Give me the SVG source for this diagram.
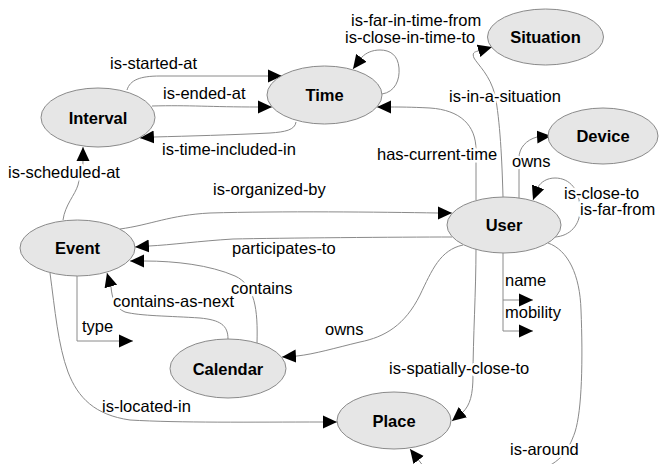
<svg xmlns="http://www.w3.org/2000/svg" width="660" height="464" viewBox="0 0 660 464">
<style>
.node ellipse{fill:#e6e6e6;stroke:#8a8a8a;stroke-width:1}
.node text{font-family:"Liberation Sans",Arial,sans-serif;font-size:16.5px;font-weight:bold;fill:#000;text-anchor:middle}
.edge{fill:none;stroke:#8a8a8a;stroke-width:1;marker-end:url(#ah)}
.lbl{font-family:"Liberation Sans",Arial,sans-serif;font-size:16.5px;fill:#000}
.halo{stroke:#fff;stroke-width:5;stroke-linejoin:round;paint-order:stroke}
</style>
<defs>
<marker id="ah" viewBox="0 0 14 14" refX="14" refY="7" markerWidth="14" markerHeight="14" markerUnits="userSpaceOnUse" orient="auto">
<path d="M0,0.5 L14,7 L0,13.5 z" fill="#000"/>
</marker>
</defs>
<rect width="660" height="464" fill="#fff"/>
<g id="connectors">
<path class="edge" d="M127,90 C130,80 140,76 160,76 L268,76 L282,76"/>
<path class="edge" d="M152,106 C190,105 210,107 258,107 L272,107"/>
<path class="edge" d="M296,122 C295,130 285,132 270,133 C230,135 190,136 154,137 L140,138"/>
<path class="edge" d="M63,220 C65,205 75,195 78,185 C80,175 83,170 83,161 L83,147"/>
<path class="edge" d="M382,94 C395,92 400,80 399,68 C398,55 390,50 380,50 C372,50 366,53 362,57 L353,69"/>
<path class="edge" d="M476,200 L476,150 C476,125 460,110 430,108 C410,107 400,107 391,107 L377,107"/>
<path class="edge" d="M503,197 C502,160 500,120 495,95 C490,75 478,65 474,58 C472,53 474,52 478,51 L492,47"/>
<path class="edge" d="M519,198 L519,158 C519,148 526,140 537,137 L551,136"/>
<path class="edge" d="M555,237 C570,236 580,225 580,210 C580,190 570,178 555,178 C547,178 541,182 538,187 L533,200"/>
<path class="edge" d="M120,229 C150,225 170,215 210,213 C280,211 380,212 438,213 L452,213"/>
<path class="edge" d="M452,237 C400,237 280,238 233,239 C200,241 170,245 149,246 L135,247"/>
<path class="edge" d="M257,343 C258,310 255,285 235,276 C210,265 175,261 145,261 L130,261"/>
<path class="edge" d="M228,339 C228,325 220,320 200,318 C170,316 140,316 125,312 C115,308 112,298 111,287 L107,273"/>
<path class="edge" d="M77,276 L77,341 L119,341 L133,341"/>
<path class="edge" d="M50,273 C55,310 58,345 68,372 C78,398 95,415 130,420 C180,423 250,422 323,422 L337,422"/>
<path class="edge" d="M463,245 C440,250 432,270 420,295 C405,325 385,337 360,342 C335,348 315,354 297,356 L282,357"/>
<path class="edge" d="M476,249 C476,290 473,340 473,375 C473,395 470,405 463,412 L452,421"/>
<path class="edge" d="M503,253 L503,331 L519,331 L533,331"/>
<path class="edge" d="M503,300 L519,300 L533,300"/>
<path class="edge" d="M548,243 C568,250 580,275 581,310 C583,360 582,410 575,432 C568,452 560,462 540,470 C500,485 440,480 424,467 L410,449"/>
</g>
<g id="labels" class="lbl">
<text x="110" y="69">is-started-at</text>
<text x="163" y="99">is-ended-at</text>
<text x="162" y="155">is-time-included-in</text>
<text class="halo" x="8" y="178">is-scheduled-at</text>
<text x="213" y="195">is-organized-by</text>
<text x="351" y="26">is-far-in-time-from</text>
<text x="345" y="43">is-close-in-time-to</text>
<text class="halo" x="449" y="102">is-in-a-situation</text>
<text class="halo" x="377" y="160">has-current-time</text>
<text class="halo" x="512" y="167">owns</text>
<text class="halo" x="564" y="199">is-close-to</text>
<text class="halo" x="580" y="215">is-far-from</text>
<text x="232" y="254">participates-to</text>
<text class="halo" x="231" y="294">contains</text>
<text class="halo" x="113" y="307">contains-as-next</text>
<text x="82" y="332">type</text>
<text x="102" y="412">is-located-in</text>
<text x="325" y="335">owns</text>
<text x="505" y="286">name</text>
<text x="505" y="318">mobility</text>
<text class="halo" x="389" y="374">is-spatially-close-to</text>
<text class="halo" x="510" y="455">is-around</text>
</g>
<g id="node-interval" class="node"><ellipse cx="98" cy="117.5" rx="57" ry="29.5"/><text x="98" y="123.5">Interval</text></g>
<g id="node-time" class="node"><ellipse cx="324.5" cy="95" rx="57.5" ry="29"/><text x="324.5" y="101">Time</text></g>
<g id="node-situation" class="node"><ellipse cx="545.5" cy="37" rx="58" ry="28"/><text x="545.5" y="42.5">Situation</text></g>
<g id="node-device" class="node"><ellipse cx="603" cy="136" rx="55" ry="28"/><text x="603" y="142">Device</text></g>
<g id="node-user" class="node"><ellipse cx="504" cy="225" rx="57" ry="28"/><text x="504" y="230.5">User</text></g>
<g id="node-event" class="node"><ellipse cx="77.5" cy="248" rx="57.5" ry="28"/><text x="77.5" y="253.5">Event</text></g>
<g id="node-calendar" class="node"><ellipse cx="228" cy="368.5" rx="58" ry="29.5"/><text x="228" y="374.5">Calendar</text></g>
<g id="node-place" class="node"><ellipse cx="394" cy="420.5" rx="57" ry="28.5"/><text x="394" y="426.5">Place</text></g>
</svg>
